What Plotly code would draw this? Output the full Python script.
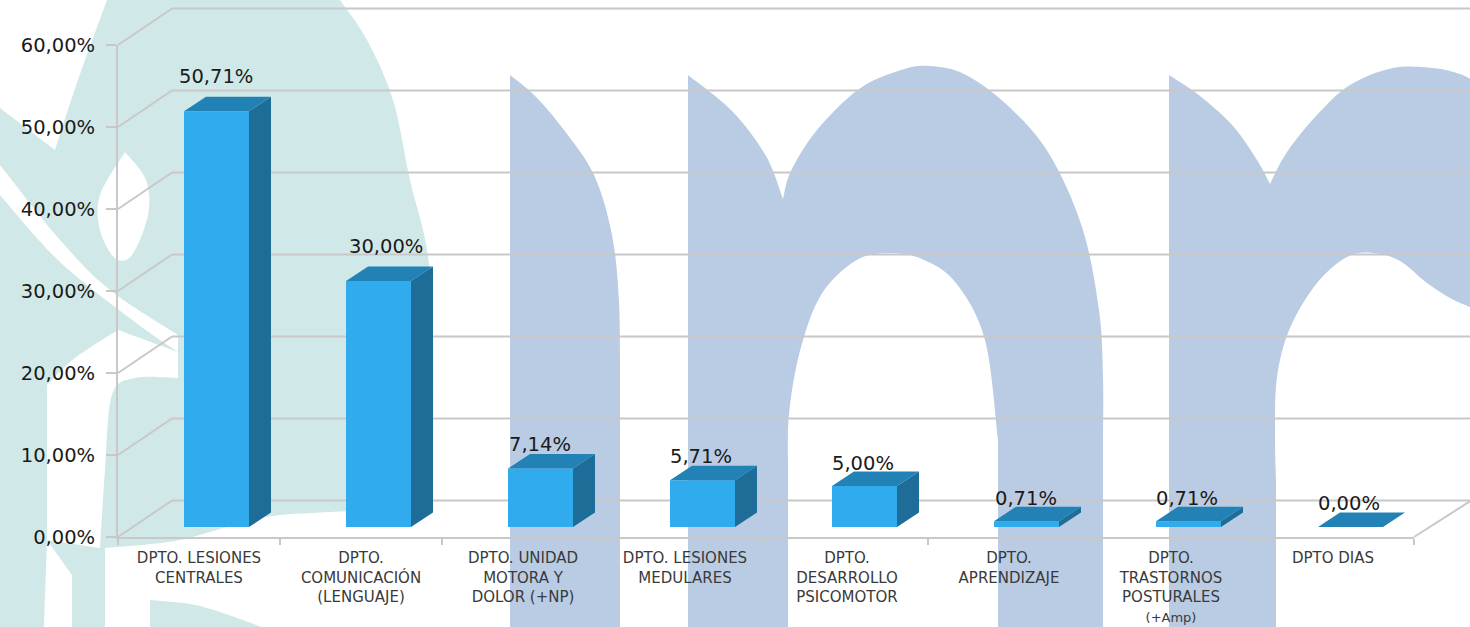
import plotly.graph_objects as go

# ---------- data ----------
categories = [
    "DPTO. LESIONES<br>CENTRALES",
    "DPTO.<br>COMUNICACIÓN<br>(LENGUAJE)",
    "DPTO. UNIDAD<br>MOTORA Y<br>DOLOR (+NP)",
    "DPTO. LESIONES<br>MEDULARES",
    "DPTO.<br>DESARROLLO<br>PSICOMOTOR",
    "DPTO.<br>APRENDIZAJE",
    'DPTO.<br>TRASTORNOS<br>POSTURALES<br><span style="font-size:13px">(+Amp)</span>',
    "DPTO DIAS",
]
values = [50.71, 30.00, 7.14, 5.71, 5.00, 0.71, 0.71, 0.00]
value_labels = ["50,71%", "30,00%", "7,14%", "5,71%", "5,00%", "0,71%", "0,71%", "0,00%"]
y_ticks = [0, 10, 20, 30, 40, 50, 60]
y_tick_labels = ["0,00%", "10,00%", "20,00%", "30,00%", "40,00%", "50,00%", "60,00%"]

# ---------- style / geometry ----------
W, H = 1470, 627
L, R, T, B = 118, 56, 45, 90
PX_X = (W - L - R) / 8
PX_Y = (H - T - B) / 60
GRID = "#c9c7c7"
FRONT, TOP, SIDE = "#30acee", "#2382b5", "#1e6d99"
TEAL, BLUE = "#d0e9e8", "#b9cce4"
FONT = "DejaVu Sans"
wall_dx, wall_dy = 54 / PX_X, 36.5 / PX_Y
bar_w = 65 / PX_X
bar_off = 17.5 / PX_X
bar_base = 10 / PX_Y
box_dx, box_dy = 22 / PX_X, 14.5 / PX_Y
label_shift = [(-1, 35), (7, 35), (-1, 24), (-2, 24), (-2, 23), (-1, 23), (-2, 23), (-2, 24)]
x_left, x_right = -0.5, 7.5
y_bottom, y_top = 0, 60

# ---------- watermark outlines (page pixels); each outline = smooth runs ----------
blue_outlines = [
    [[(510, 75), (535, 96), (564, 130), (594, 175), (612, 235), (619, 302), (620, 380)],
     [(620, 380), (620, 627)], [(620, 627), (510, 627)], [(510, 627), (510, 75)]],
    [[(688, 75), (732, 111), (766, 156), (783, 199)],
     [(783, 199), (791, 171), (817, 130), (859, 89), (901, 70), (930, 66), (964, 74),
      (1006, 104), (1048, 152), (1082, 227), (1099, 310), (1103, 377), (1103, 440)],
     [(1103, 440), (1103, 627)], [(1103, 627), (998, 627)], [(998, 627), (998, 440)],
     [(998, 440), (985, 340), (956, 283), (922, 259), (888, 253), (855, 261), (821, 295),
      (800, 351), (789, 414), (788, 470)],
     [(788, 470), (788, 627)], [(788, 627), (688, 627)], [(688, 627), (688, 75)]],
    [[(1169, 75), (1200, 96), (1233, 126), (1257, 160), (1270, 184)],
     [(1270, 184), (1287, 152), (1317, 115), (1350, 85), (1393, 68), (1433, 68), (1460, 74), (1472, 80)],
     [(1472, 80), (1472, 308)],
     [(1472, 308), (1450, 298), (1427, 283), (1400, 261), (1373, 253), (1347, 257), (1317, 283),
      (1290, 328), (1277, 377), (1275, 433), (1276, 480)],
     [(1276, 480), (1276, 627)], [(1276, 627), (1169, 627)], [(1169, 627), (1169, 75)]],
]
teal_outlines = [
    [[(107, 0), (340, 0)],
     [(340, 0), (367, 40), (393, 100), (410, 180), (427, 250), (433, 330), (433, 490)],
     [(433, 490), (415, 508), (330, 512), (260, 518), (180, 540), (105, 548)],
     [(105, 548), (105, 627)], [(105, 627), (72, 627)], [(72, 627), (72, 575)], [(72, 575), (47, 540)],
     [(47, 540), (44, 627)], [(44, 627), (0, 627)], [(0, 627), (0, 108)],
     [(0, 108), (55, 150)], [(55, 150), (78, 80), (107, 0)]],
    [[(150, 600), (200, 606), (262, 627)], [(262, 627), (150, 627)], [(150, 627), (150, 600)]],
]
white_outlines = [
    [[(125, 152), (146, 180), (148, 215), (132, 255), (115, 258), (100, 230), (100, 195), (125, 152)]],
    [[(0, 165), (60, 240), (110, 290), (178, 335)], [(178, 335), (178, 352)],
     [(178, 352), (135, 322), (60, 262), (0, 195)], [(0, 195), (0, 165)]],
    [[(47, 385), (75, 358), (118, 330)], [(118, 330), (178, 352)], [(178, 352), (178, 378)],
     [(178, 378), (135, 378), (112, 395), (105, 470), (100, 548)],
     [(100, 548), (47, 540)], [(47, 540), (47, 385)]],
]


def paper(pt):
    return f"{(pt[0] - L) / (W - L - R):.5f},{1 - (pt[1] - T) / (H - T - B):.5f}"


def path_of(outline):
    """Smooth each run with Catmull-Rom beziers; corners remain between runs."""
    d = "M" + paper(outline[0][0])
    for run in outline:
        n = len(run)
        for i in range(n - 1):
            p0, p1, p2, p3 = run[max(i - 1, 0)], run[i], run[i + 1], run[min(i + 2, n - 1)]
            c1 = (p1[0] + (p2[0] - p0[0]) / 6, p1[1] + (p2[1] - p0[1]) / 6)
            c2 = (p2[0] - (p3[0] - p1[0]) / 6, p2[1] - (p3[1] - p1[1]) / 6)
            d += f" C{paper(c1)} {paper(c2)} {paper(p2)}"
    return d + " Z"


shapes = []
for outlines, colour in ((teal_outlines, TEAL), (white_outlines, "#ffffff"), (blue_outlines, BLUE)):
    for o in outlines:
        shapes.append(dict(type="path", path=path_of(o), xref="paper", yref="paper",
                           fillcolor=colour, line_width=0, layer="below"))


# ---------- 3D walls: axis values mapped to the axes' paper fractions (not clipped) ----------
def wall_line(x0, y0, x1, y1):
    fx = lambda x: (x - x_left) / (x_right - x_left)
    fy = lambda y: (y - y_bottom) / (y_top - y_bottom)
    shapes.append(dict(type="line", xref="paper", yref="paper", x0=fx(x0), y0=fy(y0), x1=fx(x1), y1=fy(y1),
                       line=dict(color=GRID, width=2), layer="below"))


back_left, back_right = x_left + wall_dx, x_right + wall_dx + 0.02
for v in y_ticks:
    wall_line(x_left, v, back_left, v + wall_dy)
    wall_line(back_left, v + wall_dy, back_right, v + wall_dy)
wall_line(x_right, 0, back_right, wall_dy)

fig = go.Figure()

# ---------- bars: real bars for the front faces, polygons for top and side ----------
xs = [i + bar_off for i in range(len(values))]
fig.add_trace(go.Bar(x=xs, y=values, base=[bar_base] * len(values), width=bar_w,
                     marker=dict(color=FRONT, line_width=0),
                     hovertemplate="%{y:.2f}%<extra></extra>"))
side_x, side_y, top_x, top_y = [], [], [], []
for x, v in zip(xs, values):
    xl, xr = x - bar_w / 2, x + bar_w / 2
    y0, y1 = bar_base, bar_base + v
    side_x += [xr, xr + box_dx, xr + box_dx, xr, xr, None]
    side_y += [y0, y0 + box_dy, y1 + box_dy, y1, y0, None]
    top_x += [xl, xl + box_dx, xr + box_dx, xr, xl, None]
    top_y += [y1, y1 + box_dy, y1 + box_dy, y1, y1, None]
for px_, py_, col in ((side_x, side_y, SIDE), (top_x, top_y, TOP)):
    fig.add_trace(go.Scatter(x=px_, y=py_, mode="lines", fill="toself", fillcolor=col,
                             line=dict(width=0, color=col), hoverinfo="skip"))

annotations = [
    dict(x=x, y=bar_base + v, xref="x", yref="y", text=t, showarrow=False, xshift=s[0], yshift=s[1],
         font=dict(family=FONT, size=19.5, color="#1a1a1a"))
    for x, v, t, s in zip(xs, values, value_labels, label_shift)
]

axis_common = dict(showgrid=False, zeroline=False, automargin=False)
fig.update_layout(
    width=W, height=H, autosize=False, margin=dict(l=L, r=R, t=T, b=B, pad=0),
    paper_bgcolor="#ffffff", plot_bgcolor="rgba(0,0,0,0)", showlegend=False,
    shapes=shapes, annotations=annotations,
    xaxis=dict(range=[x_left, x_right], tickmode="array", tickvals=list(range(8)), ticktext=categories,
               tickangle=0, ticks="outside", ticklen=6, tickcolor="rgba(0,0,0,0)",
               showline=True, linecolor=GRID, linewidth=2,
               tickfont=dict(family=FONT, size=15, color="#3a3a3a"),
               minor=dict(tickmode="array", tickvals=[i - 0.5 for i in range(9)], ticks="outside",
                          ticklen=6, tickwidth=2, tickcolor=GRID),
               **axis_common),
    yaxis=dict(range=[y_bottom, y_top], tickmode="array", tickvals=y_ticks, ticktext=y_tick_labels,
               ticks="outside", ticklen=10, tickwidth=2, tickcolor=GRID, ticklabelstandoff=7,
               showline=True, linecolor=GRID, linewidth=2,
               tickfont=dict(family=FONT, size=19.5, color="#1a1a1a"), **axis_common),
)

fig.write_html("out.html", config={"displayModeBar": False, "responsive": False},
               default_width=f"{W}px", default_height=f"{H}px",
               post_script="document.body.style.margin='0';document.documentElement.style.overflow='hidden';")
